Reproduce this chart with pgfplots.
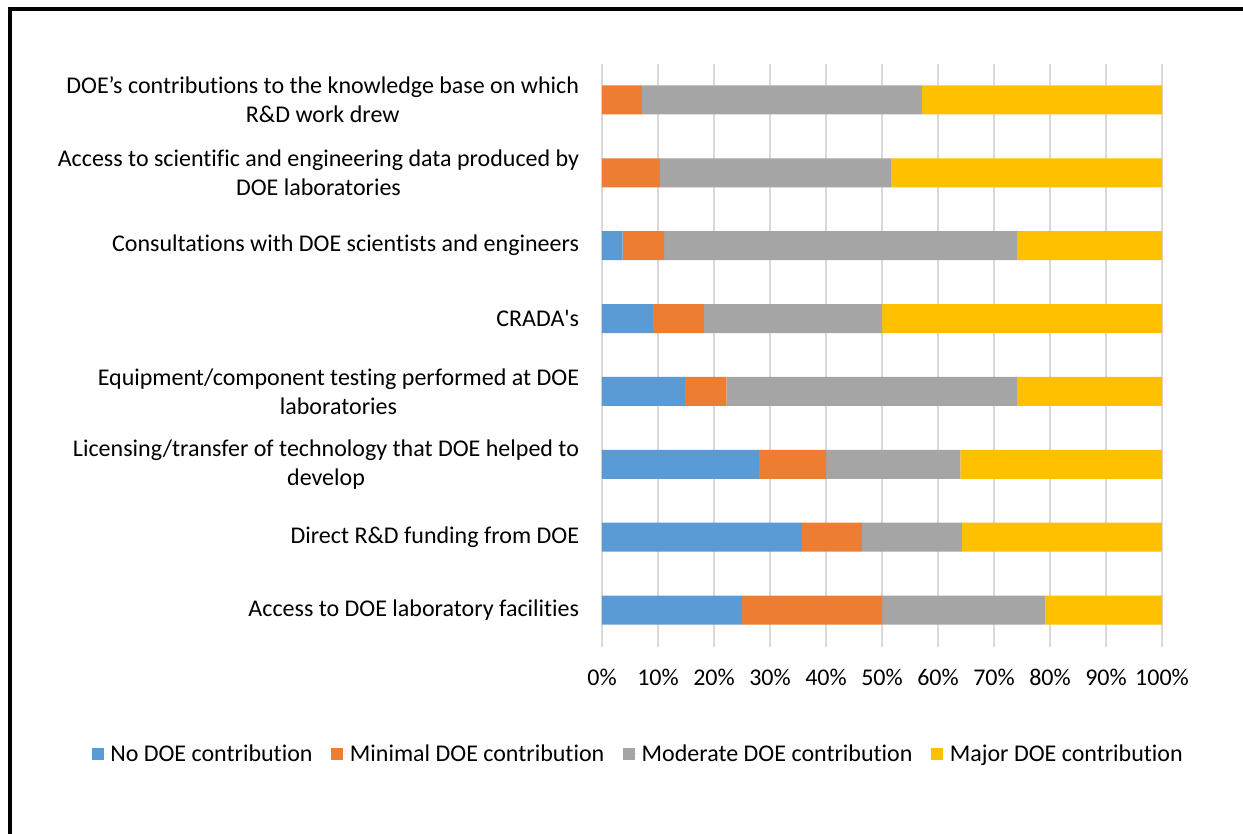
\documentclass[border=0pt]{standalone}
\usepackage{pgfplots}
\pgfplotsset{compat=1.18}
\usepackage{fontspec}
\setmainfont{Carlito}[Ligatures=NoCommon]
\definecolor{cblue}{HTML}{5B9BD5}
\definecolor{corange}{HTML}{ED7D31}
\definecolor{cgray}{HTML}{A5A5A5}
\definecolor{cyellow}{HTML}{FFC000}
\definecolor{cgrid}{HTML}{D9D9D9}
\pgfplotstableread{
cat none minimal moderate major
0 0     7.14  50.00 42.86
1 0     10.34 41.38 48.28
2 3.70  7.41  62.96 25.93
3 9.09  9.09  31.82 50.00
4 14.81 7.41  51.85 25.93
5 28.00 12.00 24.00 36.00
6 35.71 10.71 17.86 35.71
7 25.00 25.00 29.17 20.83
}\datatable
\begin{document}
\begin{tikzpicture}[x=0.75pt,y=0.75pt,font=\fontsize{18}{21.75}\selectfont]
\useasboundingbox (0,0) rectangle (1243,833);
\fill[white] (0,0) rectangle (1243,833);
\draw[line width=2.6pt] (10,-5) -- (10,824) -- (1250,824);
\begin{axis}[
  at={(451.5pt,139.875pt)}, anchor=south west,
  scale only axis, width=420pt, height=437.25pt,
  xbar stacked, bar width=21.75pt,
  xmin=0, xmax=100, ymin=-0.5, ymax=7.5, y dir=reverse,
  axis line style={draw=none},
  xtick={0,10,...,100},
  xticklabels={0\%,10\%,20\%,30\%,40\%,50\%,60\%,70\%,80\%,90\%,100\%},
  xmajorgrids, grid style={cgrid, line width=1.1pt},
  major tick length=0pt,
  ytick={0,...,7},
  yticklabels={{DOE’s contributions to the knowledge base on which\\R\&D work drew},
    {Access to scientific and engineering data produced by\\DOE laboratories},
    {Consultations with DOE scientists and engineers},
    {CRADA\textquotesingle s},
    {Equipment/component testing performed at DOE\\laboratories},
    {Licensing/transfer of technology that DOE helped to\\develop},
    {Direct R\&D funding from DOE},
    {Access to DOE laboratory facilities}},
  yticklabel style={align=center, inner sep=0pt, xshift=-17pt, font=\fontsize{18}{21.75}\selectfont},
  xticklabel style={inner sep=0pt, yshift=-17pt, font=\fontsize{18}{21.75}\selectfont},
  legend style={at={(0.0652,-0.184)}, anchor=center, draw=none, fill=none,
    legend columns=4, font=\fontsize{18}{21.75}\selectfont,
    /tikz/every even column/.append style={column sep=12pt}},
  legend image code/.code={\fill[#1] (0pt,-4.5pt) rectangle (9pt,4.5pt);
     \path (0pt,0pt) -- (12pt,0pt);},
]
\addplot[fill=cblue, draw=none] table[x=none, y=cat] {\datatable};
\addplot[fill=corange, draw=none] table[x=minimal, y=cat] {\datatable};
\addplot[fill=cgray, draw=none] table[x=moderate, y=cat] {\datatable};
\addplot[fill=cyellow, draw=none] table[x=major, y=cat] {\datatable};
\legend{No DOE contribution, Minimal DOE contribution, Moderate DOE contribution, Major DOE contribution}
\end{axis}
\end{tikzpicture}
\end{document}
